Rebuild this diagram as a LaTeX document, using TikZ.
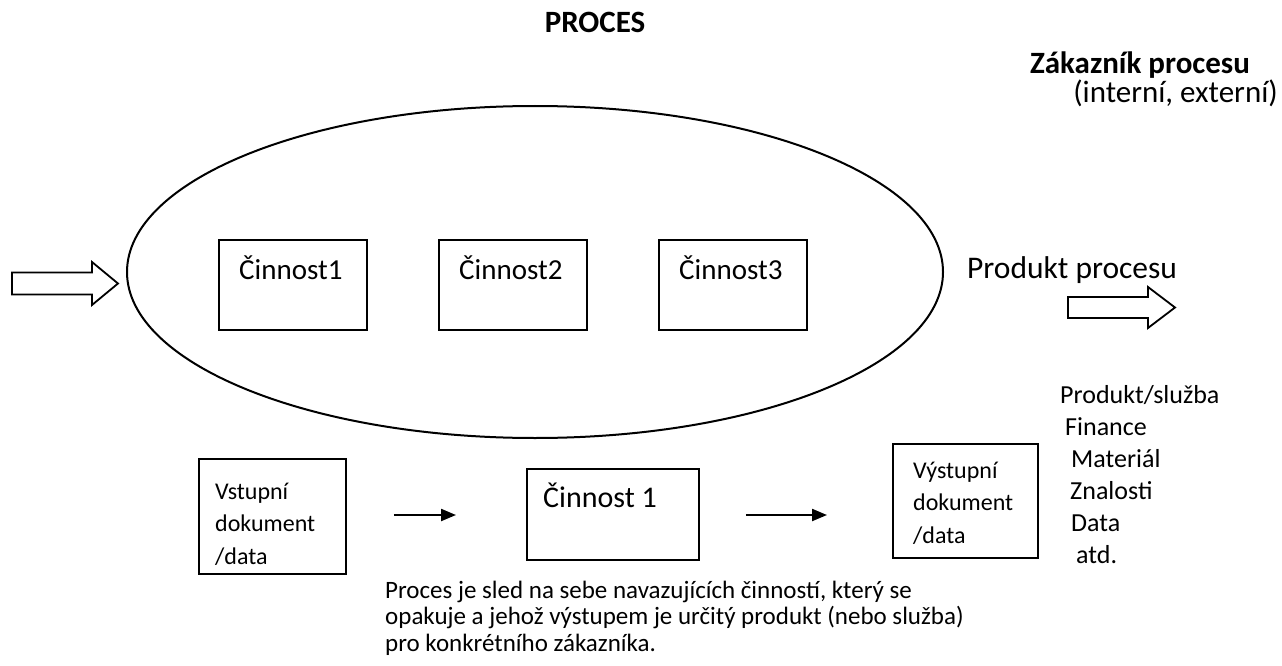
\documentclass[tikz,border=0pt]{standalone}
\usepackage{fontspec}
\setmainfont{Carlito}
\usetikzlibrary{shapes.geometric,arrows.meta,calc}

\tikzset{
  frame/.style={draw, line width=1.8pt, inner sep=0pt},
  oval/.style={draw, ellipse, line width=2pt, inner sep=0pt},
  blockarrow/.style={draw, line width=1.8pt, line join=miter, fill=white},
  flow/.style={line width=2.2pt, -{Triangle[length=15pt,width=12pt]}},
  txt/.style={inner sep=0pt, anchor=base west},
  title/.style={inner sep=0pt, font=\fontsize{31}{37}\selectfont\bfseries},
}

\newcommand{\lines}[1]{\vtop{\halign{##\hfil\cr#1\crcr}}}

\begin{document}
\begin{tikzpicture}[x=1pt, y=-1pt]
\useasboundingbox (0,0) rectangle (1282,666);

% headings
\node[title, anchor=base] (proces) at (595,33) {PROCES};
\node[title, anchor=base west] (zak) at (1030,74) {Zákazník procesu};
\node[txt, font=\fontsize{31}{37}\selectfont, anchor=base east] (zakdruh) at (1278,103) {(interní, externí)};

% the process as an ellipse with its activities
\node[oval, minimum width=816pt, minimum height=332pt] (proc) at (535,272) {};

\node[frame, anchor=north west, minimum width=148pt, minimum height=90pt] (c1) at (218,239) {};
\node[frame, anchor=north west, minimum width=148pt, minimum height=90pt] (c2) at (438,239) {};
\node[frame, anchor=north west, minimum width=148pt, minimum height=90pt] (c3) at (658,239) {};
\node[txt, font=\fontsize{29}{34}\selectfont] (c1t) at ($(c1.north west)+(21,40)$) {Činnost1};
\node[txt, font=\fontsize{29}{34}\selectfont] (c2t) at ($(c2.north west)+(21,40)$) {Činnost2};
\node[txt, font=\fontsize{29}{34}\selectfont] (c3t) at ($(c3.north west)+(21,40)$) {Činnost3};

% input and output block arrows
\coordinate (inA) at (12,283.5);
\draw[blockarrow] (inA) ++(0,-11) -- ++(80,0) -- ++(0,-10.5) -- ++(26,21.5)
  -- ++(-26,21.5) -- ++(0,-10.5) -- ++(-80,0) -- cycle;
\node[txt, font=\fontsize{31.5}{37}\selectfont] (prod) at (967,278) {Produkt procesu};
\coordinate (outA) at (1068,307.5);
\draw[blockarrow] (outA) ++(0,-10.5) -- ++(80,0) -- ++(0,-10) -- ++(27,20.5)
  -- ++(-27,20.5) -- ++(0,-10) -- ++(-80,0) -- cycle;

% kinds of process output
\node[txt, font=\fontsize{26}{32}\selectfont] (o1) at (1060,403) {Produkt/služba};
\node[txt, font=\fontsize{26}{32}\selectfont] (o2) at (1065,435) {Finance};
\node[txt, font=\fontsize{26}{32}\selectfont] (o3) at (1071,467) {Materiál};
\node[txt, font=\fontsize{26}{32}\selectfont] (o4) at (1070,499) {Znalosti};
\node[txt, font=\fontsize{26}{32}\selectfont] (o5) at (1071,531) {Data};
\node[txt, font=\fontsize{26}{32}\selectfont] (o6) at (1076,563) {atd.};

% single activity: input -> activity -> output
\node[frame, anchor=north west, minimum width=147pt, minimum height=115pt] (vin) at (198,458) {};
\node[frame, anchor=north west, minimum width=172pt, minimum height=91pt] (act) at (526,468) {};
\node[frame, anchor=north west, minimum width=145pt, minimum height=114pt] (vout) at (892,443) {};
\node[txt, font=\fontsize{24}{32.5}\selectfont] (vint) at ($(vin.north west)+(17,41)$)
  {\lines{Vstupní\cr dokument\cr /data}};
\node[txt, font=\fontsize{30}{34}\selectfont] (actt) at ($(act.north west)+(17,39)$) {Činnost 1};
\node[txt, font=\fontsize{24}{32.5}\selectfont] (voutt) at ($(vout.north west)+(21,35)$)
  {\lines{Výstupní\cr dokument\cr /data}};

\draw[flow] ($(vin.east |- 0,515)+(47,0)$) -- ($(act.west |- 0,515)+(-70,0)$);
\draw[flow] ($(act.east |- 0,515)+(46,0)$) -- ($(vout.west |- 0,515)+(-65,0)$);

% definition
\node[txt, font=\fontsize{25}{26.5}\selectfont] (def) at (385,598)
  {\lines{Proces je sled na sebe navazujících činností, který se\cr
   opakuje a jehož výstupem je určitý produkt (nebo služba)\cr
   pro konkrétního zákazníka.}};
\end{tikzpicture}
\end{document}
